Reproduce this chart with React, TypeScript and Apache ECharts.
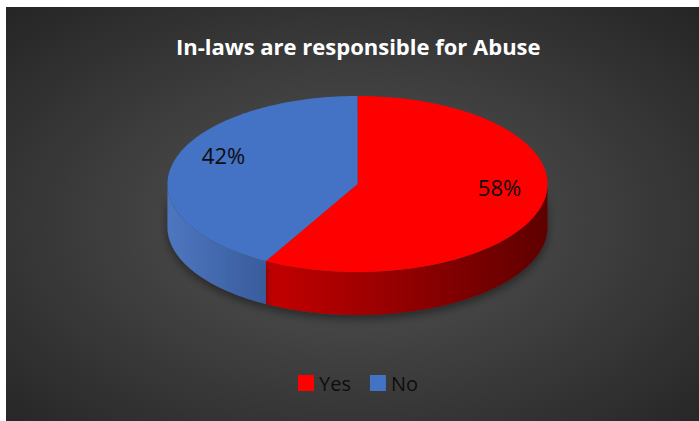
import React, { useEffect, useRef } from "react";
import * as echarts from "echarts";

const titleText = "In-laws are responsible for Abuse";
const categories = ["Yes", "No"];
const values = [58, 42];
const topColors = ["#ff0000", "#4472c4"];
const sideColors = [
  ["#c40000", "#5e0000"],
  ["#4e76c0", "#395c9c"],
];

export default function App() {
  const ref = useRef<HTMLDivElement>(null);

  useEffect(() => {
    if (!ref.current) return;
    const chart = echarts.init(ref.current, undefined, { renderer: "svg" });

    const total = values.reduce((a, b) => a + b, 0);

    const makeRenderItem = (seriesIdx: number) => (params: any, api: any) => {
      const W = api.getWidth();
      const cx = W / 2 + 5;
      const cy = 177;
      const rx = 190;
      const ry = 88;
      const depth = 43;
      const before = values.slice(0, seriesIdx).reduce((a, b) => a + b, 0);
      const v = api.value(0);
      const start = (before / total) * Math.PI * 2;
      const end = ((before + v) / total) * Math.PI * 2;
      const pt = (t: number, r = 1, dy = 0) => [
        cx + rx * r * Math.sin(t),
        cy - ry * r * Math.cos(t) + dy,
      ];
      const N = 120;
      const arc = (a: number, b: number, dy: number) => {
        const pts: number[][] = [];
        for (let i = 0; i <= N; i++) pts.push(pt(a + ((b - a) * i) / N, 1, dy));
        return pts;
      };
      const children: any[] = [];
      const s = Math.max(start, Math.PI / 2);
      const e = Math.min(end, (Math.PI * 3) / 2);
      if (s < e) {
        const topArc = arc(s, e, 0);
        const botArc = arc(e, s, depth);
        const pts = topArc.concat(botArc);
        const xs = pts.map((p) => p[0]);
        const minX = Math.min(...xs);
        const maxX = Math.max(...xs);
        children.push({
          type: "polygon",
          z2: 0,
          shape: { points: pts },
          style: {
            fill: new echarts.graphic.LinearGradient(
              minX, 0, maxX, 0,
              [
                { offset: 0, color: sideColors[seriesIdx][0] },
                { offset: 1, color: sideColors[seriesIdx][1] },
              ],
              true
            ),
            shadowColor: "rgba(0,0,0,0.45)",
            shadowBlur: 10,
            shadowOffsetY: 4,
          },
        });
      }
      children.push({
        type: "polygon",
        z2: 10,
        shape: { points: [[cx, cy]].concat(arc(start, end, 0)) },
        style: { fill: topColors[seriesIdx] },
      });
      const mid = (start + end) / 2;
      const lp = pt(mid, 0.75, -13);
      children.push({
        type: "text",
        z2: 20,
        x: lp[0] + 4,
        y: lp[1],
        style: {
          text: Math.round((v / total) * 100) + "%",
          fill: "#0d0d0d",
          font: "22px 'Open Sans'",
          align: "center",
          verticalAlign: "middle",
        },
      });
      return { type: "group", children };
    };

    chart.setOption({
      animation: false,
      backgroundColor: new echarts.graphic.RadialGradient(0.5, 0.52, 0.72, [
        { offset: 0, color: "#565656" },
        { offset: 1, color: "#252525" },
      ]),
      title: {
        text: titleText,
        left: 165,
        top: 23,
        textStyle: {
          color: "#ffffff",
          fontFamily: "Open Sans",
          fontWeight: "bold",
          fontSize: 22,
        },
      },
      legend: {
        data: categories,
        left: 292,
        top: 366,
        padding: 0,
        icon: "rect",
        itemWidth: 16,
        itemHeight: 16,
        itemGap: 19,
        textStyle: { color: "#0d0d0d", fontFamily: "Open Sans", fontSize: 20 },
      },
      series: categories.map((name, i) => ({
        type: "custom",
        name,
        coordinateSystem: "none",
        itemStyle: { color: topColors[i] },
        renderItem: makeRenderItem(i),
        data: [values[i]],
      })),
    });

    return () => chart.dispose();
  }, []);

  return (
    <div
      ref={ref}
      style={{ position: "absolute", left: 6, top: 7, width: 693, height: 414 }}
    />
  );
}
